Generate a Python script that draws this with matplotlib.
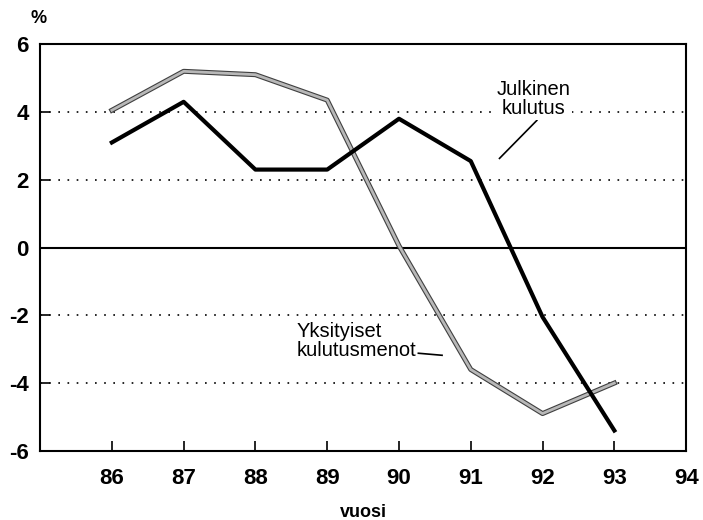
import matplotlib
matplotlib.use("Agg")
import matplotlib.pyplot as plt
import matplotlib.patheffects as pe

# data
years = [86, 87, 88, 89, 90, 91, 92, 93]
julkinen = [3.1, 4.3, 2.3, 2.3, 3.8, 2.55, -2.05, -5.4]
yksityiset = [4.05, 5.2, 5.1, 4.35, 0.05, -3.6, -4.9, -4.0]
xticks = [86, 87, 88, 89, 90, 91, 92, 93, 94]
yticks = [-6, -4, -2, 0, 2, 4, 6]

plt.rcParams["font.family"] = ["Liberation Sans", "DejaVu Sans"]
plt.rcParams["axes.unicode_minus"] = False

fig = plt.figure(figsize=(7.03, 5.2), dpi=100)
ax = fig.add_axes([0.057, 0.133, 0.919, 0.782])

# grid: dotted at +-2, +-4, solid at zero
for y in [-4, -2, 2, 4]:
    ax.axhline(y, color="black", lw=1.2, ls=(0, (1, 4.5)), zorder=1)
ax.axhline(0, color="black", lw=1.5, zorder=1)

ax.plot(years, yksityiset, color="#b8b8b8", lw=2.0, zorder=2,
        path_effects=[pe.Stroke(linewidth=3.6, foreground="#404040"), pe.Normal()])
ax.plot(years, julkinen, color="black", lw=3, zorder=3)

ax.set_xlim(85, 94)
ax.set_ylim(-6, 6)
ax.set_xticks(xticks)
ax.set_yticks(yticks)
ax.tick_params(direction="in", length=7, width=1.2, labelsize=16)
ax.tick_params(axis="x", pad=12)
ax.tick_params(axis="y", pad=8)
for lab in ax.get_xticklabels() + ax.get_yticklabels():
    lab.set_fontweight("bold")
for s in ax.spines.values():
    s.set_linewidth(1.5)

ax.set_xlabel("vuosi", fontsize=13, fontweight="bold", labelpad=11)
fig.text(0.055, 0.965, "%", fontsize=13, fontweight="bold", ha="center", va="center")

# annotations (white box hides the dotted grid behind the text)
box = dict(facecolor="white", edgecolor="none", pad=1)
ax.text(91.87, 4.38, "Julkinen\nkulutus", fontsize=14.5, ha="center", va="center",
        linespacing=1.0, bbox=box, zorder=4)
ax.plot([91.4, 91.92], [2.63, 3.75], color="black", lw=1.2)
ax.text(88.58, -2.76, "Yksityiset\nkulutusmenot", fontsize=14.5, ha="left", va="center",
        linespacing=1.0, zorder=4)
ax.plot([90.27, 90.6], [-3.12, -3.18], color="black", lw=1.2)

fig.savefig("out.png", dpi=100)
